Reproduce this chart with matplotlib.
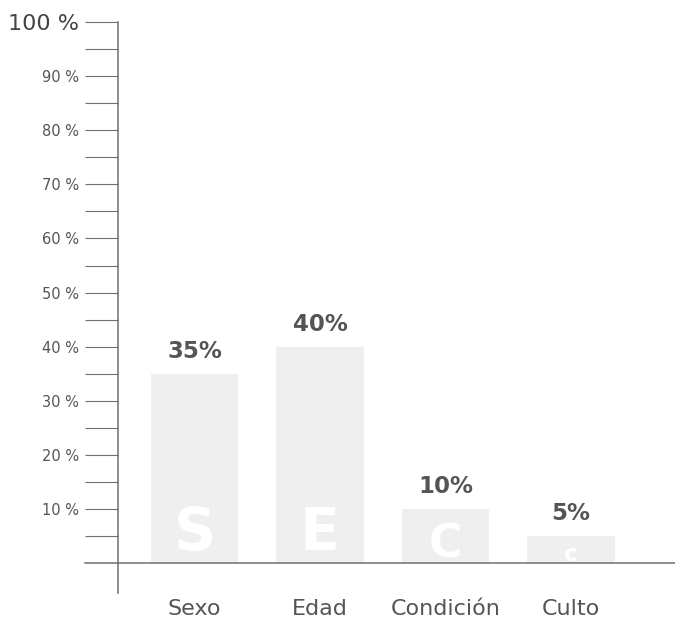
import matplotlib
matplotlib.use('Agg')
import matplotlib.pyplot as plt

# Data
categories = ['Sexo', 'Edad', 'Condición', 'Culto']
values = [35, 40, 10, 5]
letters = ['S', 'E', 'C', 'c']
major_ticks = [10, 20, 30, 40, 50, 60, 70, 80, 90, 100]
minor_ticks = [5, 15, 25, 35, 45, 55, 65, 75, 85, 95]

line_col = '#707070'
text_col = '#555555'

fig = plt.figure(figsize=(6.75, 6.25), dpi=100)
ax = fig.add_axes([118 / 675, 32 / 625, 557 / 675, 571 / 625])

x = list(range(len(categories)))
ax.bar(x, values, width=0.70, color='#efefef', zorder=1)

# Value labels above bars and big white initials inside them
for i, v in enumerate(values):
    ax.text(i, v + 3.0, f'{v}%', ha='center', va='baseline',
            fontsize=16.5, fontweight='bold', color=text_col)
    ax.text(i, min(2.4, v * 0.1), letters[i], ha='center', va='baseline',
            fontsize=min(42, v * 3.3), fontweight='bold', color='white',
            zorder=2)

# Axis ranges
ax.set_xlim(-0.61, 3.83)
ax.set_ylim(-5.5, 100)

# Spines: only the vertical axis
for side in ['top', 'right', 'bottom']:
    ax.spines[side].set_visible(False)
ax.spines['left'].set_color(line_col)
ax.spines['left'].set_linewidth(1.1)

# Horizontal baseline, sticking out to the left of the axis
ax.axhline(0, xmin=-0.06, xmax=1.0, color=line_col, lw=1.1, clip_on=False,
           zorder=3)

# Y ticks
ax.set_yticks(major_ticks)
ax.set_yticklabels([f'{t} %' for t in major_ticks])
ax.set_yticks(minor_ticks, minor=True)
ax.tick_params(axis='y', which='both', direction='out', length=24,
               width=0.8, color=line_col, pad=4)
ax.tick_params(axis='y', which='major', labelsize=10.5, labelcolor=text_col)
for lab in ax.get_yticklabels():
    if lab.get_text().startswith('100'):
        lab.set_fontsize(16)
        lab.set_color('#444444')

# X labels
ax.set_xticks(x)
ax.set_xticklabels(categories)
ax.tick_params(axis='x', length=0, pad=4, labelsize=16, labelcolor=text_col)

fig.savefig('out.png', dpi=100)
